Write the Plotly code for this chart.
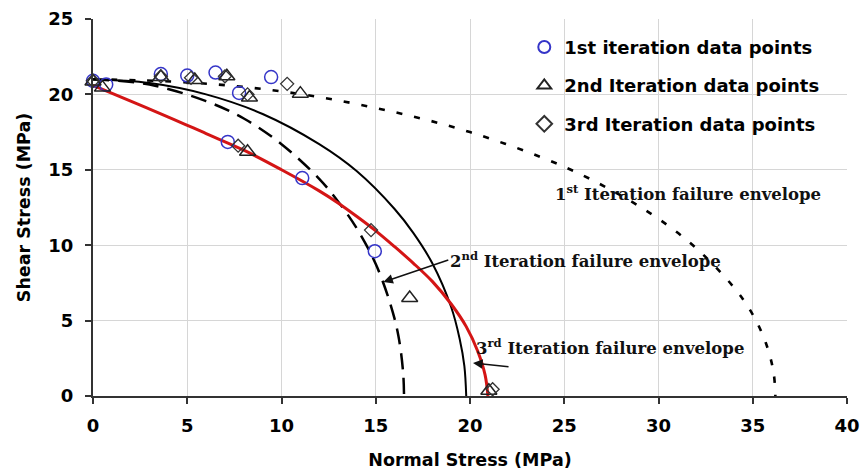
import plotly.graph_objects as go

# ---- data ----
it1_x = [0, 0.7, 3.6, 5.0, 6.5, 7.75, 9.45, 7.15, 11.1, 14.95]
it1_y = [20.9, 20.65, 21.35, 21.25, 21.45, 20.1, 21.15, 16.85, 14.45, 9.6]

it2_x = [0, 0.5, 3.6, 5.4, 7.1, 8.3, 11.0, 8.2, 16.8, 21.0]
it2_y = [20.85, 20.45, 21.15, 20.95, 21.2, 19.8, 20.05, 16.2, 6.5, 0.35]

it3_x = [0, 3.6, 5.2, 7.0, 8.2, 10.3, 7.7, 14.75, 21.2]
it3_y = [20.9, 21.2, 21.1, 21.2, 20.0, 20.7, 16.6, 11.0, 0.45]

env1_x = [0, 5, 10, 15, 20, 25, 28, 30, 32, 34, 35, 35.7, 36.1, 36.2]
env1_y = [21.0, 20.8, 20.2, 19.1, 17.5, 15.2, 13.3, 11.75, 9.8, 7.2, 5.4, 3.5, 1.6, 0]

env2_x = [0, 3, 6, 9, 12, 14, 16, 17, 18, 19, 19.45, 19.7, 19.8]
env2_y = [21.0, 20.75, 20.0, 18.7, 16.7, 14.9, 12.4, 10.8, 8.8, 5.9, 3.8, 2.0, 0]

env3_x = [0, 3, 6, 8, 10, 12, 13, 14, 15, 15.8, 16.2, 16.45, 16.5]
env3_y = [21.0, 20.65, 19.55, 18.4, 16.7, 14.4, 12.9, 11.1, 8.75, 6.0, 4.0, 1.6, 0]

red_x = [0, 2, 4, 6, 8, 10, 12, 13, 14, 15, 16, 17, 18, 19, 19.8, 20.4, 20.8, 20.95]
red_y = [20.6, 19.55, 18.5, 17.4, 16.3, 15.0, 13.6, 12.8, 11.9, 10.95, 9.9, 8.8, 7.6, 6.1, 4.6, 3.0, 1.4, 0]

legend_names = ["1st iteration data points", "2nd Iteration data points", "3rd Iteration data points"]
x_ticks = [0, 5, 10, 15, 20, 25, 30, 35, 40]
y_ticks = [0, 5, 10, 15, 20, 25]

SANS = "DejaVu Sans"
SERIF = "DejaVu Serif"

fig = go.Figure()

line_common = dict(mode="lines", showlegend=False, hoverinfo="skip")
fig.add_trace(go.Scatter(x=env1_x, y=env1_y, line=dict(color="black", width=2.6, dash="6px,12px", shape="spline"), **line_common))
fig.add_trace(go.Scatter(x=env2_x, y=env2_y, line=dict(color="black", width=2, shape="spline"), **line_common))
fig.add_trace(go.Scatter(x=env3_x, y=env3_y, line=dict(color="black", width=2.5, dash="16px,9px", shape="spline"), **line_common))
fig.add_trace(go.Scatter(x=red_x, y=red_y, line=dict(color="#d41515", width=3, shape="spline"), **line_common))

fig.add_trace(go.Scatter(x=it1_x, y=it1_y, mode="markers", name=legend_names[0], legendgroup="a",
                         cliponaxis=False,
                         marker=dict(symbol="circle-open", size=13, color="#3535c8", line=dict(width=1.5))))
fig.add_trace(go.Scatter(x=it2_x, y=it2_y, mode="markers", name=legend_names[1], legendgroup="b",
                         cliponaxis=False,
                         marker=dict(symbol="triangle-up-open", size=14, color="#222222", line=dict(width=1.5))))
fig.add_trace(go.Scatter(x=it3_x, y=it3_y, mode="markers", name=legend_names[2], legendgroup="c",
                         cliponaxis=False,
                         marker=dict(symbol="diamond-open", size=10, color="#333333", line=dict(width=1.3))))

ann_font = dict(family=SERIF, size=16.5, color="#111111", weight="bold")
fig.add_annotation(x=24.4, y=13.46, xref="x", yref="y", xanchor="left", yanchor="middle",
                   text="1<sup>st</sup> Iteration failure envelope", showarrow=False, font=ann_font)
# label 2 carries its own arrow: tail at the label's left-middle, head at the dashed envelope
fig.add_annotation(x=15.4, y=7.56, xref="x", yref="y", ax=65, ay=-22, xanchor="left", yanchor="middle",
                   text="2<sup>nd</sup> Iteration failure envelope", showarrow=True, font=ann_font,
                   arrowhead=2, arrowsize=1.2, arrowwidth=1.6, arrowcolor="#111111", standoff=0, startstandoff=0)
fig.add_annotation(x=20.2, y=3.25, xref="x", yref="y", xanchor="left", yanchor="middle",
                   text="3<sup>rd</sup> Iteration failure envelope", showarrow=False, font=ann_font)
fig.add_annotation(x=20.16, y=2.19, xref="x", yref="y", ax=37, ay=4, text="", showarrow=True,
                   arrowhead=2, arrowsize=1.2, arrowwidth=1.6, arrowcolor="#111111")

axis_common = dict(showgrid=True, gridcolor="#d6d6d6", gridwidth=1, zeroline=False,
                   showline=True, linecolor="#333333", linewidth=2, automargin=False,
                   ticks="outside", ticklen=6, tickcolor="#333333", tickwidth=1.5,
                   tickfont=dict(family=SANS, size=18, color="black", weight="bold"))

fig.update_xaxes(range=[0, 40], tickvals=x_ticks, ticktext=[str(v) for v in x_ticks],
                 ticklabelstandoff=6,
                 title=dict(text="Normal Stress (MPa)", font=dict(family=SANS, size=17.5, color="black", weight="bold"), standoff=19),
                 **axis_common)
fig.update_yaxes(range=[0, 25], tickvals=y_ticks, ticktext=[str(v) for v in y_ticks],
                 ticklabelstandoff=8,
                 title=dict(text="Shear Stress (MPa)", font=dict(family=SANS, size=17.5, color="black", weight="bold"), standoff=13),
                 **axis_common)

fig.update_layout(
    width=860, height=476,
    margin=dict(l=93, r=13, t=19, b=80),
    plot_bgcolor="white", paper_bgcolor="white",
    legend=dict(x=0.572, y=0.974, xanchor="left", yanchor="top", bgcolor="rgba(0,0,0,0)",
                font=dict(family=SANS, size=18, color="black", weight="bold"),
                itemsizing="constant", tracegroupgap=12),
)

fig.write_html("out.html")
